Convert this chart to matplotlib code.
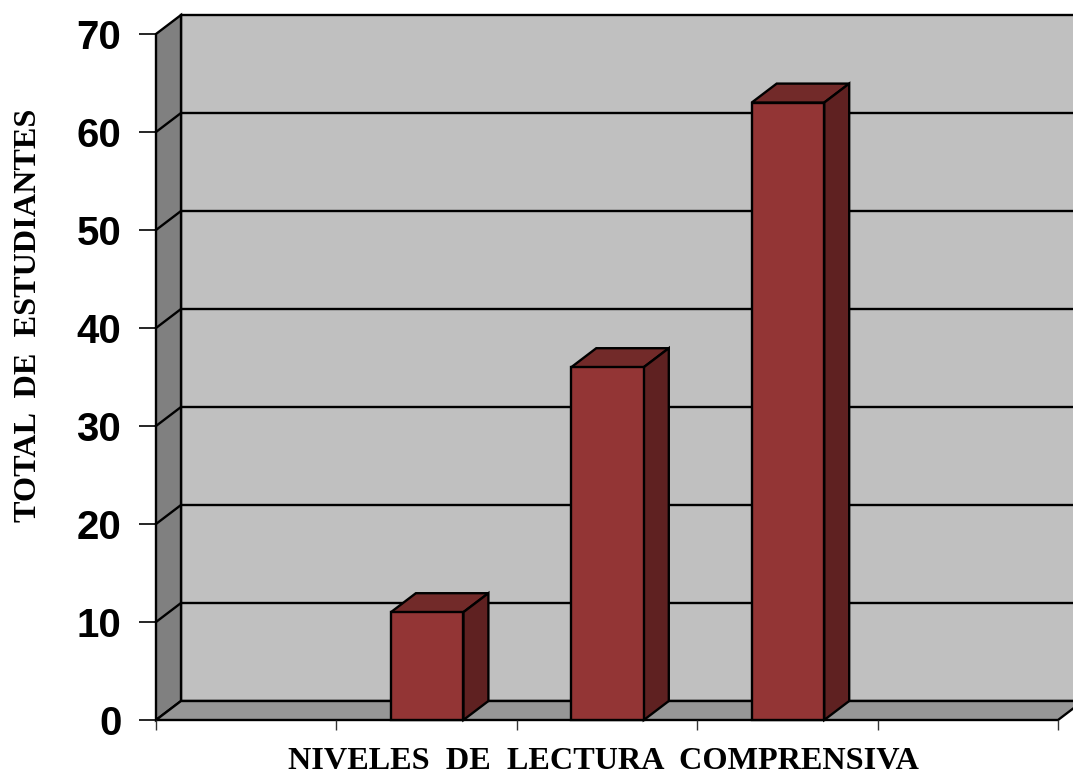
# 3D looking column chart, the depth is faked with polygons on a normal axes

import matplotlib
matplotlib.use("Agg")
import matplotlib.pyplot as plt
from matplotlib.patches import Polygon

W, H = 1073, 771

# data
positions = [1, 2, 3]
values = [11, 36, 63]
y_ticks = [0, 10, 20, 30, 40, 50, 60, 70]
n_categories = 5
bar_width = 0.402

# depth of the fake 3D, in data units (25 px right, 19 px up)
dx = 25 / 180.4
dy = 19 / 9.8

fig = plt.figure(figsize=(W / 100, H / 100), dpi=100)
ax = fig.add_axes([156 / W, 1 - 720 / H, (1058 - 156) / W, (720 - 34) / H])
ax.set_xlim(0, n_categories)
ax.set_ylim(0, 70)
ax.patch.set_visible(False)
for side in ax.spines.values():
    side.set_visible(False)

line_w = 1.7
top = y_ticks[-1]


def poly(points, color, z):
    ax.add_patch(Polygon(points, closed=True, facecolor=color, edgecolor="black",
                         linewidth=line_w, clip_on=False, zorder=z))


# back wall, left wall, floor
poly([(dx, dy), (n_categories + dx, dy), (n_categories + dx, top + dy), (dx, top + dy)], "#C0C0C0", 1)
poly([(0, 0), (dx, dy), (dx, top + dy), (0, top)], "#808080", 1)
poly([(0, 0), (n_categories, 0), (n_categories + dx, dy), (dx, dy)], "#969696", 1)

# gridlines go along the back wall and down the left wall
for t in y_ticks[1:-1]:
    ax.plot([0, dx, n_categories + dx], [t, t + dy, t + dy], color="black", lw=line_w,
            clip_on=False, zorder=2)

# bars
for p, v in zip(positions, values):
    x0 = p + 0.503 - bar_width / 2
    x1 = p + 0.503 + bar_width / 2
    poly([(x0, v), (x1, v), (x1 + dx, v + dy), (x0 + dx, v + dy)], "#722A29", 3)
    poly([(x1, 0), (x1 + dx, dy), (x1 + dx, v + dy), (x1, v)], "#5F2121", 3)
    poly([(x0, 0), (x1, 0), (x1, v), (x0, v)], "#933535", 4)

ax.set_xticks(range(n_categories + 1))
ax.set_xticklabels([])
ax.set_yticks(y_ticks)
ax.set_yticklabels([str(t) for t in y_ticks], fontname="Liberation Sans", fontstretch="normal",
                   fontweight="bold", fontsize=29)
ax.tick_params(axis="x", length=7, width=1, color="#333333")
ax.tick_params(axis="y", length=12, width=1.2, color="black", pad=13)

fig.text(603 / W, 1 - 769 / H, "NIVELES  DE  LECTURA  COMPRENSIVA", ha="center", va="baseline",
         fontname="Liberation Serif", fontweight="bold", fontsize=23.2)
fig.text(29 / W, 1 - 315 / H, "TOTAL  DE  ESTUDIANTES", ha="center", va="center", rotation=90,
         fontname="Liberation Serif", fontweight="bold", fontsize=23.2)

fig.savefig("out.png", dpi=100)
